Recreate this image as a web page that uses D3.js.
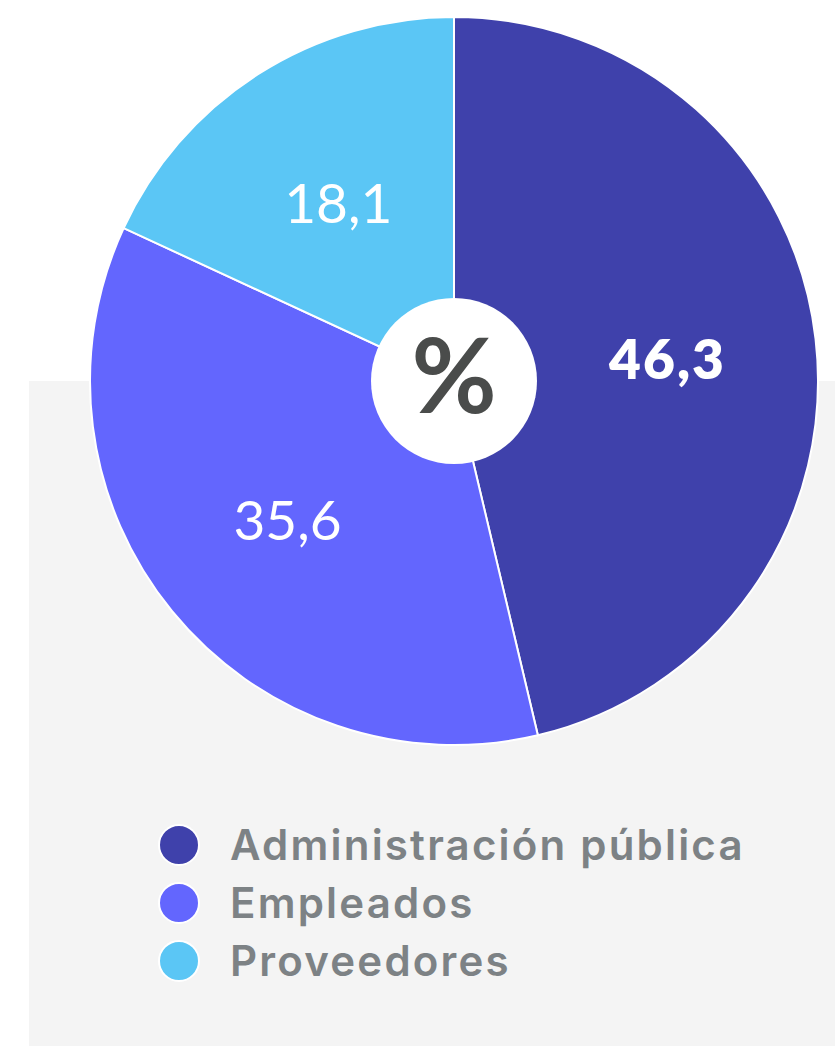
<!DOCTYPE html>
<html>
<head>
<meta charset="utf-8">
<script src="https://cdn.jsdelivr.net/npm/d3@7"></script>
<style>
  html, body { margin: 0; padding: 0; background: #fff; }
  svg { display: block; font-family: Lato, "Open Sans", sans-serif; }
</style>
</head>
<body>
<svg id="chart" width="835" height="1046"></svg>
<script>
const categories = ["Administración pública", "Empleados", "Proveedores"];
const values = [46.3, 35.6, 18.1];
const labels = ["46,3", "35,6", "18,1"];
const colors = ["#3f41ab", "#6366fe", "#5bc6f5"];

const w = 835, h = 1046;
const cx = 454, cy = 381, r = 364;

const svg = d3.select("#chart");

// grey panel behind
svg.append("rect")
  .attr("x", 29).attr("y", 381)
  .attr("width", w - 29).attr("height", h - 381)
  .attr("fill", "#f4f4f4");

const data = categories.map((c, i) => ({ name: c, value: values[i], label: labels[i], color: colors[i] }));

const pie = d3.pie().value(d => d.value).sort(null);
const arc = d3.arc().innerRadius(0).outerRadius(r);
const labelArc = d3.arc().innerRadius(215).outerRadius(215);

const g = svg.append("g").attr("transform", `translate(${cx},${cy})`);

const arcs = pie(data);

g.selectAll("path")
  .data(arcs)
  .enter()
  .append("path")
  .attr("d", arc)
  .attr("fill", d => d.data.color)
  .attr("stroke", "#fff")
  .attr("stroke-width", 2);

g.selectAll("text.val")
  .data(arcs)
  .enter()
  .append("text")
  .attr("class", "val")
  .attr("transform", d => `translate(${labelArc.centroid(d)})`)
  .attr("text-anchor", "middle")
  .attr("dy", "0.42em")
  .attr("font-size", 55)
  .attr("font-weight", (d, i) => i === 0 ? 800 : 400)
  .attr("letter-spacing", (d, i) => i === 0 ? 2 : 0)
  .attr("fill", "#fff")
  .text(d => d.data.label);

// centre badge
g.append("circle").attr("r", 83).attr("fill", "#fff");
g.append("text")
  .attr("text-anchor", "middle")
  .attr("dy", "0.35em")
  .attr("y", -4)
  .attr("font-size", 104)
  .attr("font-weight", 700)
  .attr("fill", "#4a4c4b")
  .text("%");

// legend
const legend = svg.append("g").attr("transform", "translate(179,845)");
const row = legend.selectAll("g")
  .data(data)
  .enter()
  .append("g")
  .attr("transform", (d, i) => `translate(0,${i * 58})`);

row.append("circle")
  .attr("r", 20)
  .attr("fill", d => d.color)
  .attr("stroke", "#fff")
  .attr("stroke-width", 2);

row.append("text")
  .attr("x", 51)
  .attr("dy", "0.36em")
  .attr("font-family", "Inter, sans-serif")
  .attr("font-size", 42)
  .attr("font-weight", 600)
  .attr("letter-spacing", 2.2)
  .attr("fill", "#7d8285")
  .text(d => d.name);
</script>
</body>
</html>
